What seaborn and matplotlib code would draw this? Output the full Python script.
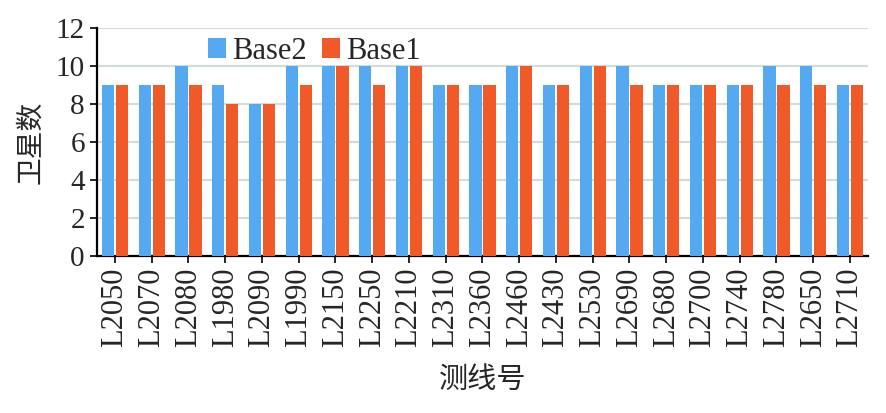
import pandas as pd
import numpy as np
import matplotlib.pyplot as plt
import seaborn as sns

# data
lines = ["L2050", "L2070", "L2080", "L1980", "L2090", "L1990", "L2150", "L2250",
         "L2210", "L2310", "L2360", "L2460", "L2430", "L2530", "L2690", "L2680",
         "L2700", "L2740", "L2780", "L2650", "L2710"]
base2 = [9, 9, 10, 9, 8, 10, 10, 10, 10, 9, 9, 10, 9, 10, 10, 9, 9, 9, 10, 10, 9]
base1 = [9, 9, 9, 8, 8, 9, 10, 9, 10, 9, 9, 10, 9, 10, 9, 9, 9, 9, 9, 9, 9]

df = pd.DataFrame({"line": lines * 2,
                   "sats": base2 + base1,
                   "base": ["Base2"] * len(lines) + ["Base1"] * len(lines)})

sns.set_style("white")
plt.rcParams['font.family'] = ['Liberation Serif', 'Noto Sans CJK SC']

fig = plt.figure(figsize=(8.86, 4.13), dpi=100)
ax = fig.add_axes([0.109, 0.38, 0.871, 0.552])

palette = {"Base2": "#55A9F0", "Base1": "#F05A28"}
sns.barplot(data=df, x="line", y="sats", hue="base", palette=palette,
            saturation=1, width=0.76, gap=0.12, ax=ax, zorder=3, linewidth=0)

ax.set_ylim(0, 12)
ax.set_yticks(range(0, 13, 2))
ax.yaxis.grid(True, color="#d3dbdb", linewidth=1.6, zorder=0)
ax.set_axisbelow(True)

for s in ["top", "right"]:
    ax.spines[s].set_visible(False)
for s in ["left", "bottom"]:
    ax.spines[s].set_color("black")
    ax.spines[s].set_linewidth(1.6)

ax.tick_params(axis="both", which="major", direction="out", length=5,
               width=1.2, color="black", labelsize=21, left=True, bottom=True)
ax.tick_params(axis="x", labelsize=22, labelrotation=90)

ax.set_xlabel("测线号", fontsize=21, labelpad=14)
ax.set_ylabel("卫星数", fontsize=20, labelpad=8)

ax.legend(loc="upper left", bbox_to_anchor=(0.128, 1.015), ncol=2, frameon=False,
          fontsize=22, handlelength=0.6, handleheight=0.6, handletextpad=0.2,
          columnspacing=0.5, borderaxespad=0)

fig.savefig("out.png", dpi=100)
